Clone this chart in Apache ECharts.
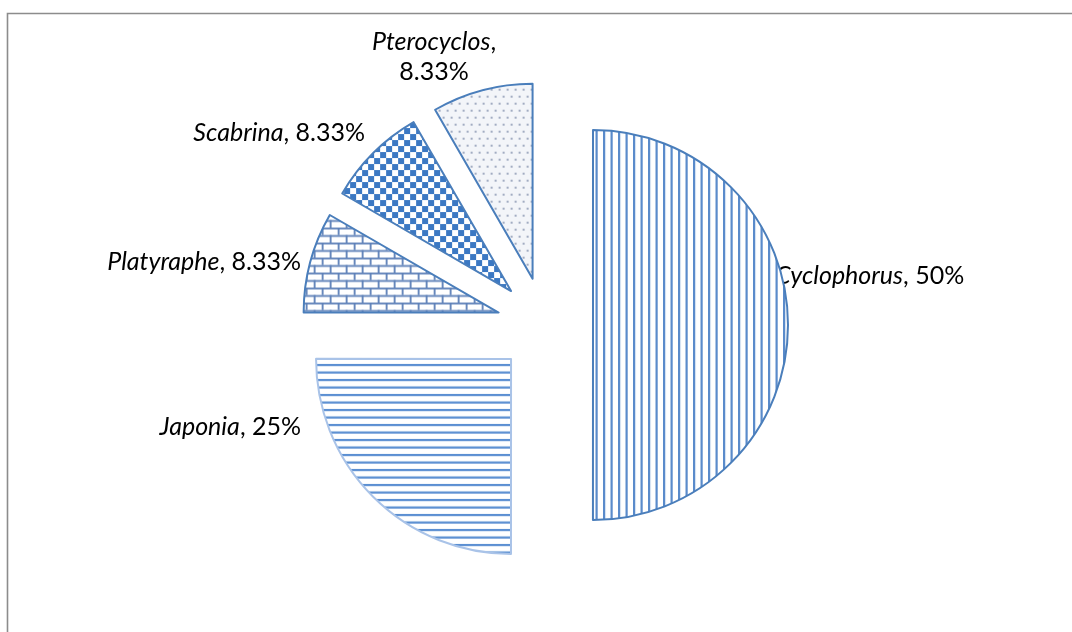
<!DOCTYPE html>
<html>
<head>
<meta charset="utf-8">
<script src="https://cdn.jsdelivr.net/npm/echarts@6/dist/echarts.min.js"></script>
<style>
  html, body { margin: 0; padding: 0; background: #fff; }
  #chart { width: 1072px; height: 632px; }
</style>
</head>
<body>
<div id="chart"></div>
<script>
// genus share (%), same order Excel draws them: clockwise from 12 o'clock
const genera = ['Cyclophorus', 'Japonia', 'Platyraphe', 'Scabrina', 'Pterocyclos']
const shares = [50, 25, 8.33, 8.33, 8.33]

const blue = '#4a7ebb'

// small canvas tiles used as fill patterns
function tile(w, h, draw) {
  const c = document.createElement('canvas')
  c.width = w
  c.height = h
  const ctx = c.getContext('2d')
  draw(ctx, w, h)
  return { image: c, repeat: 'repeat' }
}

const patterns = {
  vlines: tile(15, 15, (ctx, w, h) => {
    ctx.fillStyle = '#fff'
    ctx.fillRect(0, 0, w, h)
    ctx.fillStyle = '#5a8bcb'
    ctx.fillRect(0, 0, 2.2, h)
    ctx.fillRect(7.5, 0, 2.2, h)
  }),
  hlines: tile(15, 15, (ctx, w, h) => {
    ctx.fillStyle = '#fff'
    ctx.fillRect(0, 0, w, h)
    ctx.fillStyle = '#5b8fd2'
    ctx.fillRect(0, 0, w, 2.2)
    ctx.fillRect(0, 7.5, w, 2.2)
  }),
  bricks: tile(16, 15, (ctx, w, h) => {
    ctx.fillStyle = '#fff'
    ctx.fillRect(0, 0, w, h)
    ctx.fillStyle = '#5d80b8'
    ctx.fillRect(0, 0, w, 1.8)
    ctx.fillRect(0, 7.5, w, 1.8)
    ctx.fillRect(0, 0, 1.8, 7.5)
    ctx.fillRect(8, 7.5, 1.8, 7.5)
  }),
  checker: tile(12, 12, (ctx, w, h) => {
    ctx.fillStyle = '#fff'
    ctx.fillRect(0, 0, w, h)
    ctx.fillStyle = '#3b78c3'
    ctx.fillRect(0, 0, 6, 6)
    ctx.fillRect(6, 6, 6, 6)
  }),
  dots: tile(16, 14, (ctx, w, h) => {
    ctx.fillStyle = '#f3f5f9'
    ctx.fillRect(0, 0, w, h)
    ctx.fillStyle = '#8f9bb5'
    ;[[4, 3], [12, 3], [0, 10], [8, 10], [16, 10]].forEach(([x, y]) => {
      ctx.beginPath()
      ctx.arc(x, y, 1.1, 0, Math.PI * 2)
      ctx.fill()
    })
  }),
}

const sliceStyles = [
  { color: patterns.vlines, borderColor: blue },
  { color: patterns.hlines, borderColor: '#a9c3e8' },
  { color: patterns.bricks, borderColor: blue },
  { color: patterns.checker, borderColor: blue },
  { color: patterns.dots, borderColor: blue },
]

// where Excel put each data label
const labelSpots = [
  { x: 775, y: 276, align: 'left' },
  { x: 301, y: 427, align: 'right' },
  { x: 301, y: 262, align: 'right' },
  { x: 365, y: 133, align: 'right' },
  { x: 434, y: 57, align: 'center' },
]

const labelFont = { fontFamily: 'Lato', fontSize: 25, lineHeight: 30 }

function labelText(i) {
  const sep = genera[i] === 'Pterocyclos' ? ',\n' : ', '
  return '{i|' + genera[i] + '}' + sep + shares[i] + '%'
}

const myChart = echarts.init(document.getElementById('chart'))

const option = {
  animation: false,
  graphic: [
    {
      type: 'rect',
      shape: { x: 7.5, y: 13.5, width: 1200, height: 1000 },
      style: { fill: 'none', stroke: '#8c8c8c', lineWidth: 1.6 },
      silent: true,
    },
  ].concat(
    genera.map((g, i) => ({
      type: 'text',
      x: labelSpots[i].x,
      y: labelSpots[i].y,
      silent: true,
      style: Object.assign(
        {
          text: labelText(i),
          fill: '#000',
          align: labelSpots[i].align,
          verticalAlign: 'middle',
          rich: { i: Object.assign({ fontStyle: 'italic', fill: '#000' }, labelFont) },
        },
        labelFont
      ),
    }))
  ),
  series: [
    {
      type: 'pie',
      center: [545, 325],
      radius: 195,
      startAngle: 90,
      clockwise: true,
      selectedMode: 'multiple',
      selectedOffset: 48,
      emphasis: { disabled: true },
      label: { show: false },
      labelLine: { show: false },
      data: genera.map((g, i) => ({
        name: g,
        value: shares[i],
        selected: true,
        itemStyle: Object.assign({ borderWidth: 2 }, sliceStyles[i]),
        select: { itemStyle: Object.assign({ borderWidth: 2 }, sliceStyles[i]) },
      })),
    },
  ],
}

myChart.setOption(option)
</script>
</body>
</html>
